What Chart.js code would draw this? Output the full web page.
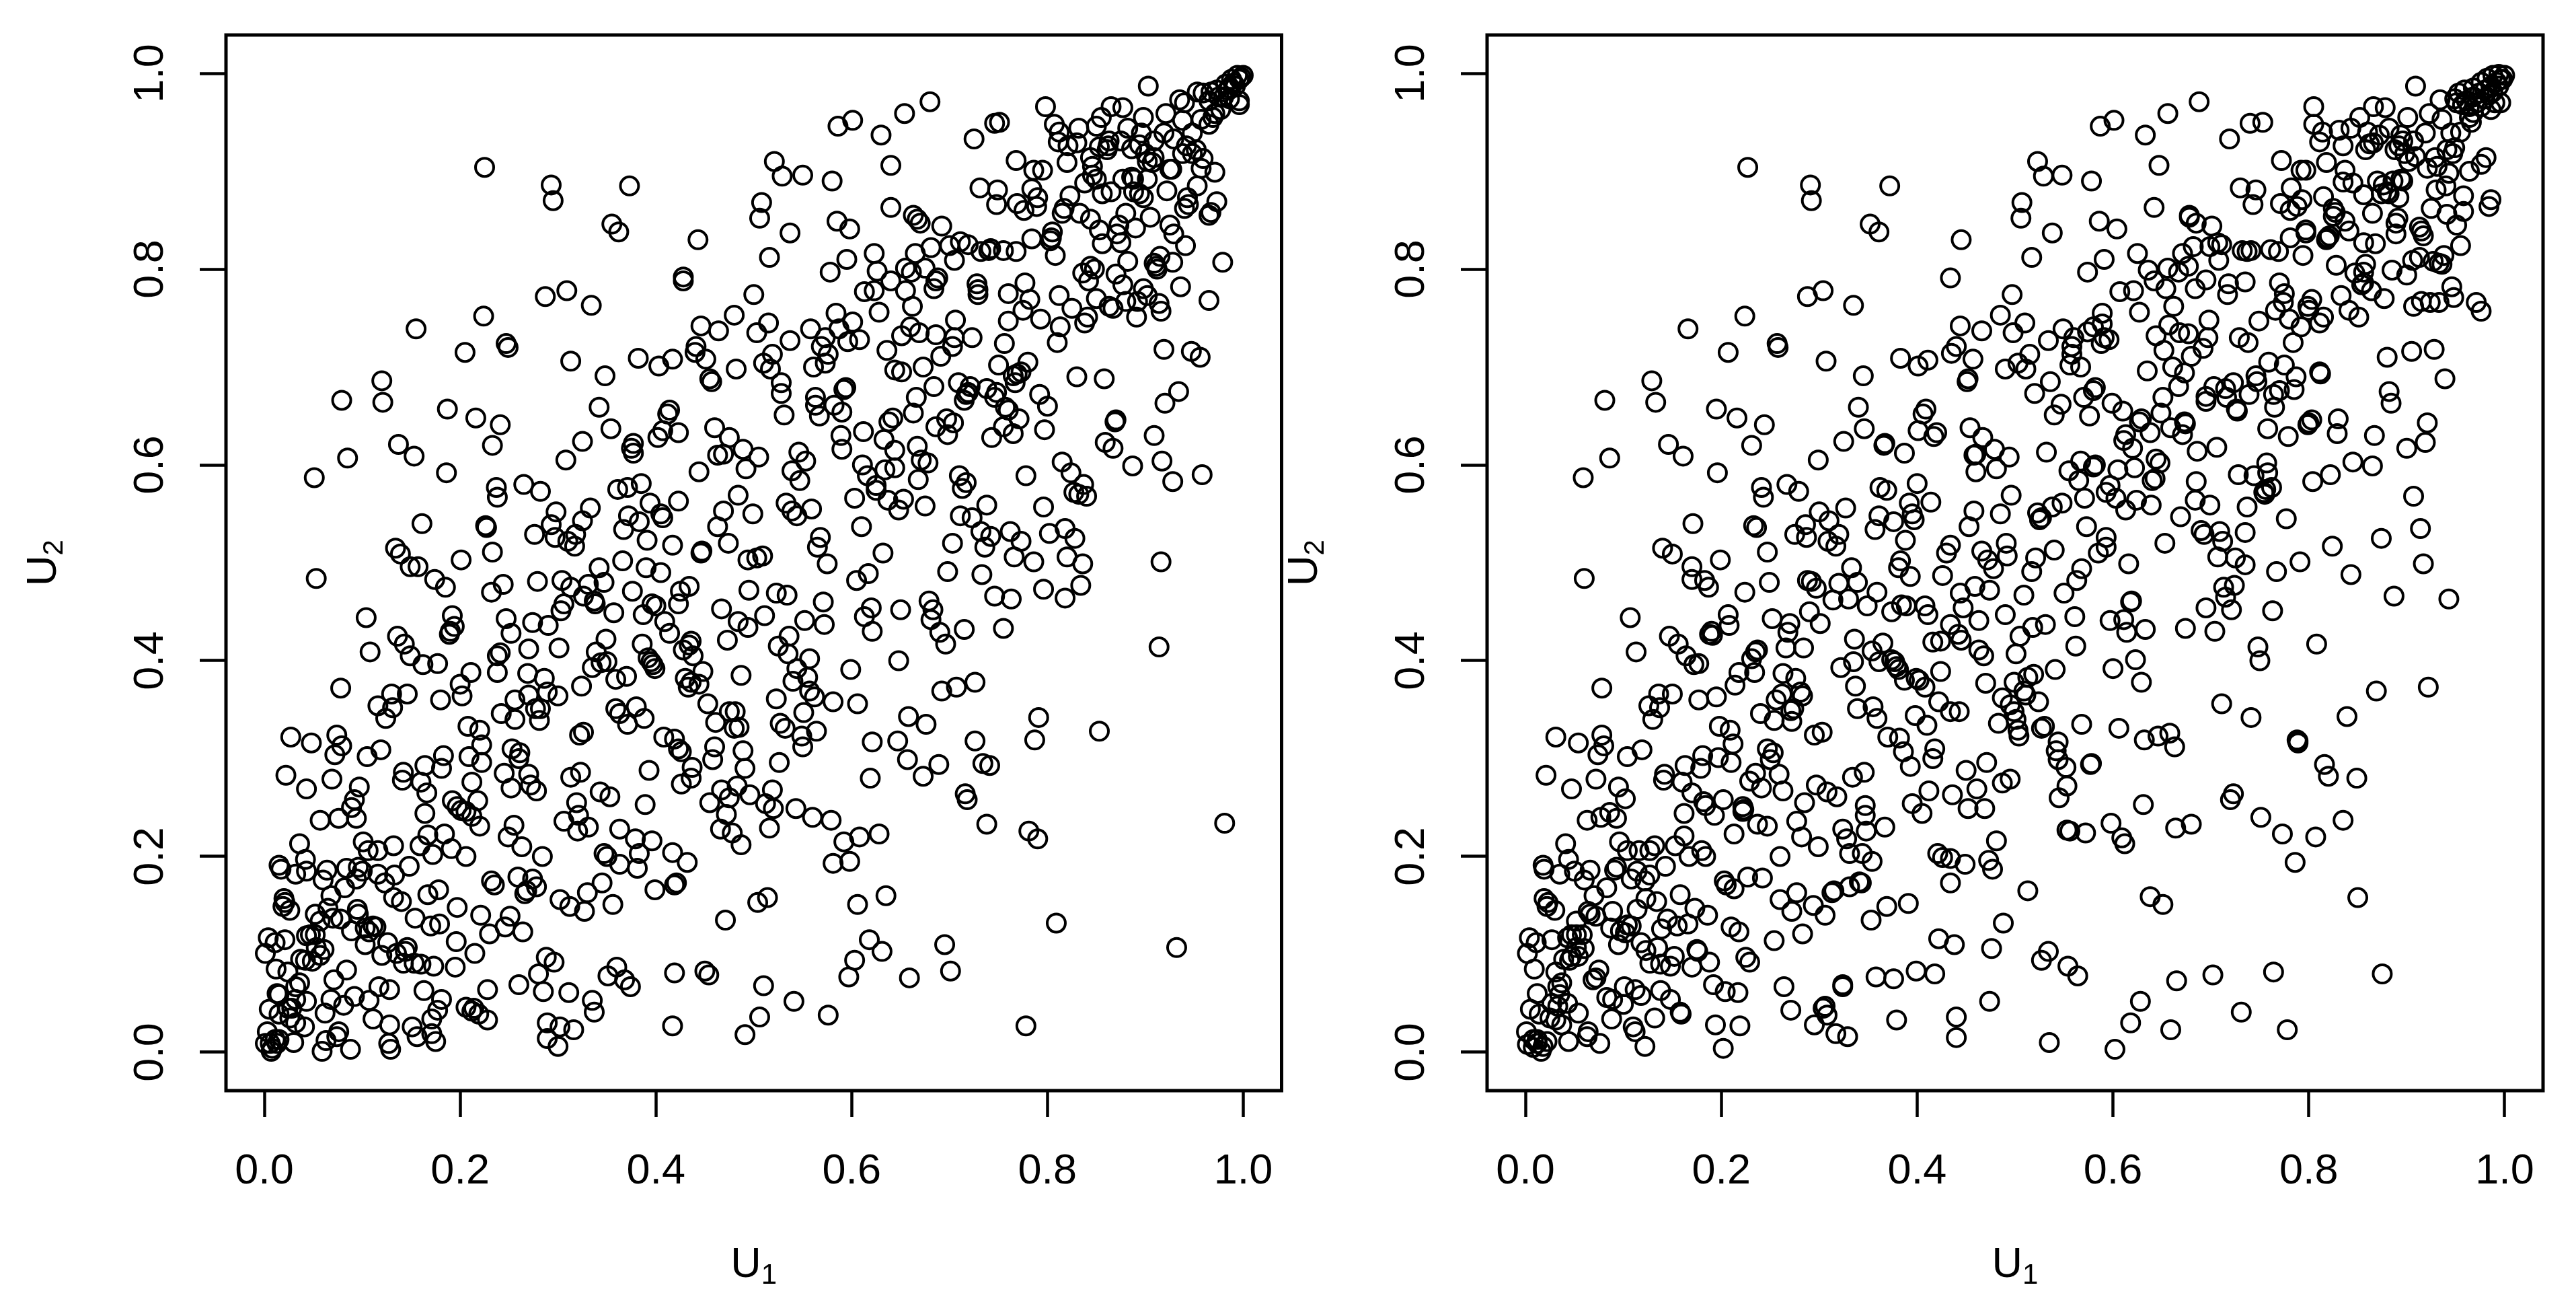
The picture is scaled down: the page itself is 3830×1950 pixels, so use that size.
<!DOCTYPE html>
<html>
<head>
<meta charset="utf-8">
<title>U1 U2 scatter</title>
<script src="https://cdn.jsdelivr.net/npm/chart.js@4"></script>
<style>
html, body { margin: 0; padding: 0; background: #fff; }
canvas { position: absolute; top: 0; }
</style>
</head>
<body>
<canvas id="leftPlot" width="1923" height="1950" style="left:0"></canvas>
<canvas id="rightPlot" width="1915" height="1950" style="left:1915px"></canvas>
<script>
const tickValues = [0, 0.2, 0.4, 0.6, 0.8, 1];
const tickLabels = ['0.0', '0.2', '0.4', '0.6', '0.8', '1.0'];
const xTitle = ['U', '1'];
const yTitle = ['U', '2'];

/* U1, U2 pairs */
const leftPairs = [
[.225,.904],[.293,.886],[.295,.870],[.373,.885],[.355,.846],[.362,.838],[.287,.772],[.309,.778],[.334,.763],[.224,.752],[.155,.739],[.205,.715],[.247,.724],[.249,.720],[.313,.706],[.348,.691],[.382,.709],[.403,.701],[.120,.686],[.079,.666],[.121,.664],[.187,.657],[.216,.648],[.241,.641],[.342,.659],[.354,.637],[.414,.656],[.412,.652],[.407,.635],[.402,.628],[.325,.624],[.308,.605],[.377,.622],[.375,.617],[.377,.612],[.137,.621],[.153,.609],[.085,.607],[.051,.587],[.233,.620],[.186,.592],[.237,.577],[.238,.567],[.265,.580],[.282,.573],[.361,.575],[.371,.577],[.385,.581],[.394,.561],[.405,.550],[.407,.546],[.372,.548],[.383,.542],[.367,.534],[.391,.523],[.333,.556],[.298,.552],[.325,.543],[.293,.539],[.161,.540],[.226,.538],[.227,.536],[.276,.529],[.318,.529],[.297,.526],[.310,.522],[.317,.517],[.134,.515],[.139,.509],[.233,.511],[.201,.503],[.366,.502],[.342,.495],[.390,.495],[.405,.490],[.149,.496],[.157,.496],
[.053,.484],[.174,.483],[.185,.475],[.232,.470],[.244,.478],[.279,.481],[.304,.482],[.313,.475],[.326,.466],[.331,.478],[.347,.480],[.337,.461],[.338,.458],[.376,.471],[.357,.449],[.396,.458],[.400,.456],[.387,.447],[.409,.440],[.414,.428],[.386,.417],[.306,.458],[.303,.451],[.290,.436],[.274,.439],[.247,.443],[.252,.428],[.192,.446],[.194,.435],[.190,.430],[.189,.427],[.104,.444],[.136,.425],[.143,.417],[.149,.405],[.108,.409],[.162,.396],[.177,.397],[.241,.408],[.238,.405],[.270,.412],[.301,.413],[.349,.422],[.339,.409],[.350,.399],[.344,.398],[.335,.393],[.392,.403],[.395,.399],[.397,.396],[.399,.392],[.370,.384],[.359,.381],[.078,.372],[.211,.388],[.200,.376],[.202,.364],[.238,.388],[.269,.387],[.286,.382],[.324,.374],[.146,.366],[.130,.366],[.116,.354],[.131,.352],[.124,.341],[.180,.360],[.256,.360],[.270,.365],[.289,.368],[.300,.364],[.277,.351],[.282,.351],[.281,.339],[.256,.340],[.242,.346],[.359,.351],[.363,.346],[.371,.335],[.380,.353],[.388,.341],[.208,.333],[.220,.329],[.222,.314],[.322,.324],[.326,.327],[.027,.322],[.048,.316],[.074,.324],[.079,.313],[.072,.304],[.119,.309],[.105,.302],[.408,.322],[.423,.310],[.253,.310],[.261,.306],[.260,.300],[.183,.303],[.181,.290],[.164,.293],[.209,.302],[.222,.296],[.142,.286],[.141,.278],[.160,.276],[.166,.265],[.212,.276],[.245,.285],[.252,.270],[.270,.284],[.272,.273],[.278,.267],[.313,.281],[.323,.286],[.393,.288],[.022,.283],[.043,.269],[.069,.279],[.097,.271],[.092,.258],[.089,.250],[.094,.239],[.076,.239],[.057,.237],[.343,.266],[.353,.261],[.389,.253],[.319,.255],[.321,.242],[.192,.257],[.197,.251],[.201,.247],[.206,.246],[.212,.241],[.218,.257],[.220,.231],[.164,.244],[.306,.236],[.320,.226],[.331,.230],[.255,.232],[.249,.220],[.263,.210],[.363,.228],[.379,.218],[.396,.216],[.383,.203],[.347,.203],[.350,.200],[.363,.192],[.381,.188],[.284,.200],[.036,.213],[.042,.197],[.043,.185],[.032,.182],[.015,.191],[.017,.187],[.064,.186],[.060,.176],[.101,.215],[.106,.206],[.116,.206],[.132,.211],[.167,.222],[.184,.223],[.159,.211],[.172,.202],[.191,.208],[.206,.200],[.084,.188],[.096,.189],[.100,.185],[.094,.177],[.116,.182],[.133,.181],[.123,.173],[.148,.190],[.082,.168],[.068,.160],[.232,.175],[.235,.171],[.259,.179],[.274,.177],[.278,.169],[.266,.162],[.268,.165],[.345,.173],[.330,.163],[.302,.156],[.312,.149],[.327,.144],[.356,.151],[.399,.166],[.167,.161],[.178,.166],[.132,.158],[.140,.154],[.197,.148],[.221,.140],[.251,.139],[.246,.128],[.230,.121],[.264,.123],[.154,.137],[.170,.129],[.179,.131],[.020,.157],[.021,.153],[.019,.149],[.026,.145],[.052,.141],[.065,.147],[.057,.134],[.070,.137],[.078,.136],[.095,.146],[.096,.141],[.089,.124],[.103,.127],[.111,.129],[.114,.128],[.107,.123],[.103,.110],[.047,.120],[.052,.120],[.043,.119],[.053,.107],[.061,.105],[.057,.099],[.049,.093],[.037,.095],[.042,.094],[.004,.117],[.011,.112],[.021,.115],[.001,.101],[.126,.112],[.120,.099],[.135,.101],[.146,.107],[.144,.103],[.142,.091],[.153,.091],[.160,.090],[.173,.088],[.196,.113],[.195,.087],[.215,.101],[.012,.085],[.024,.082],[.084,.084],[.071,.074],[.036,.071],[.032,.067],[.013,.060],[.015,.059],[.117,.067],[.128,.064],[.163,.063],[.228,.064],[.260,.069],[.280,.080],[.288,.097],[.296,.092],[.285,.062],[.311,.061],[.351,.078],[.360,.087],[.368,.074],[.374,.067],[.335,.053],[.337,.041],[.068,.054],[.092,.057],[.107,.053],[.081,.048],[.043,.052],[.032,.054],[.024,.045],[.005,.044],[.015,.039],[.028,.045],[.026,.035],[.032,.030],[.041,.026],[.062,.040],[.181,.054],[.177,.043],[.171,.034],[.206,.046],[.214,.045],[.212,.042],[.219,.039],[.228,.033],[.111,.034],[.128,.028],[.151,.026],[.156,.016],[.171,.019],[.175,.011],[.289,.030],[.302,.026],[.316,.023],[.289,.014],[.300,.006],[.076,.021],[.074,.016],[.063,.012],[.059,.001],[.088,.003],[.127,.009],[.129,.003],[.030,.010],[.003,.021],[.011,.013],[.015,.013],[.006,.009],[.001,.009],[.008,.004],[.007,.001],[.013,.009],
[.903,.987],[.680,.971],[.654,.959],[.601,.952],[.586,.946],[.630,.937],[.798,.966],[.725,.933],[.746,.949],[.751,.950],[.865,.966],[.877,.965],[.935,.973],[.921,.959],[.898,.955],[.855,.955],[.807,.948],[.812,.940],[.811,.930],[.832,.944],[.830,.929],[.821,.926],[.850,.946],[.862,.926],[.861,.922],[.863,.931],[.853,.925],[.882,.944],[.875,.931],[.886,.923],[.894,.927],[.896,.939],[.900,.918],[.909,.931],[.919,.939],[.929,.933],[.938,.952],[.948,.939],[.909,.914],[.907,.909],[.902,.910],[.942,.926],[.952,.922],[.959,.913],[.948,.918],[.938,.918],[.925,.902],[.927,.902],[.957,.903],[.971,.899],[.953,.885],[.922,.880],[.953,.981],[.959,.980],[.967,.981],[.973,.983],[.965,.972],[.975,.976],[.982,.989],[.988,.994],[.994,.998],[1,.998],[.996,.994],[.990,.990],[.984,.983],[.980,.976],[.986,.985],[.977,.963],[.971,.959],[.965,.948],[.996,.968],[.996,.972],[.957,.953],[.969,.955],[.986,.974],[.992,.987],[.998,.996],[.940,.970],[.768,.911],[.786,.901],[.795,.901],[.846,.905],[.846,.896],[.850,.892],[.838,.888],[.844,.914],[.856,.877],[.865,.879],[.820,.909],[.877,.892],[.886,.894],[.888,.892],[.902,.892],[.888,.879],[.894,.877],[.898,.873],[.731,.883],[.749,.881],[.748,.866],[.769,.867],[.776,.860],[.784,.882],[.790,.873],[.789,.864],[.823,.875],[.817,.862],[.815,.857],[.833,.857],[.844,.851],[.943,.873],[.940,.862],[.944,.866],[.973,.869],[.965,.855],[.967,.858],[.905,.853],[.880,.857],[.873,.845],[.890,.842],[.925,.845],[.929,.836],[.853,.840],[.871,.836],[.875,.827],[.856,.826],[.941,.824],[.784,.831],[.805,.838],[.804,.832],[.803,.829],[.808,.814],[.882,.808],[.979,.807],[.915,.813],[.909,.806],[.911,.803],[.912,.800],[.928,.807],[.844,.803],[.848,.800],[.836,.796],[.842,.788],[.870,.795],[.877,.784],[.898,.780],[.892,.767],[.902,.773],[.914,.765],[.916,.757],[.880,.767],[.891,.751],[.936,.782],[.965,.768],[.850,.770],[.863,.762],[.867,.760],[.812,.773],[.825,.760],[.841,.751],[.838,.745],[.813,.741],[.810,.725],[.777,.786],[.760,.775],[.782,.769],[.775,.758],[.793,.749],[.760,.747],[.756,.724],[.692,.844],[.663,.855],[.667,.851],[.670,.847],[.640,.863],[.640,.906],[.521,.910],[.529,.895],[.550,.896],[.580,.890],[.508,.868],[.506,.852],[.537,.837],[.585,.849],[.598,.841],[.443,.830],[.516,.812],[.595,.810],[.578,.797],[.623,.816],[.626,.798],[.640,.788],[.665,.816],[.681,.822],[.700,.824],[.711,.828],[.719,.825],[.732,.818],[.740,.819],[.742,.821],[.755,.819],[.768,.818],[.705,.809],[.655,.801],[.661,.797],[.675,.801],[.688,.791],[.686,.788],[.684,.780],[.655,.778],[.728,.785],[.729,.779],[.729,.774],[.613,.777],[.623,.778],[.628,.756],[.662,.762],[.428,.792],[.428,.788],[.500,.774],[.480,.753],[.446,.742],[.464,.737],[.503,.735],[.515,.745],[.584,.755],[.601,.746],[.587,.739],[.558,.739],[.573,.730],[.569,.721],[.596,.726],[.608,.728],[.537,.727],[.441,.721],[.440,.715],[.451,.708],[.417,.708],[.482,.698],[.519,.713],[.510,.704],[.517,.698],[.576,.713],[.573,.704],[.561,.700],[.455,.688],[.457,.685],[.528,.684],[.528,.673],[.531,.651],[.660,.741],[.669,.735],[.651,.732],[.686,.733],[.706,.748],[.723,.730],[.705,.730],[.703,.721],[.691,.711],[.636,.717],[.673,.700],[.644,.697],[.651,.695],[.684,.680],[.666,.669],[.663,.653],[.750,.702],[.780,.705],[.773,.695],[.769,.693],[.765,.691],[.767,.684],[.709,.684],[.721,.680],[.719,.674],[.717,.672],[.715,.666],[.738,.678],[.748,.674],[.746,.669],[.757,.659],[.760,.656],[.771,.647],[.755,.639],[.765,.632],[.743,.628],[.792,.672],[.800,.660],[.797,.636],[.830,.690],[.858,.688],[.919,.718],[.947,.716],[.956,.710],[.934,.675],[.920,.663],[.870,.646],[.869,.644],[.859,.623],[.867,.617],[.909,.630],[.887,.599],[.917,.604],[.928,.583],[.958,.590],[.815,.603],[.824,.592],[.837,.580],[.827,.572],[.832,.570],[.840,.568],[.778,.589],[.710,.589],[.717,.582],[.713,.576],[.796,.557],[.738,.559],[.711,.548],[.723,.546],[.732,.532],[.742,.527],[.762,.532],[.773,.522],[.766,.506],[.786,.501],[.802,.530],[.818,.535],[.828,.525],[.820,.506],[.836,.499],[.916,.501],[.703,.520],[.736,.516],[.698,.491],[.733,.488],[.632,.510],[.610,.537],[.675,.558],[.653,.565],[.637,.564],[.648,.554],[.668,.585],[.667,.619],[.671,.605],[.678,.602],[.644,.615],[.633,.626],[.634,.595],[.644,.597],[.611,.600],[.616,.589],[.625,.579],[.625,.574],[.603,.566],[.612,.634],[.589,.630],[.590,.616],[.642,.648],[.638,.644],[.697,.647],[.704,.643],[.686,.639],[.698,.631],[.563,.669],[.563,.661],[.567,.650],[.582,.661],[.590,.654],[.594,.679],[.592,.677],[.546,.613],[.553,.604],[.539,.594],[.547,.584],[.460,.638],[.423,.633],[.475,.628],[.489,.616],[.463,.610],[.469,.611],[.505,.608],[.492,.596],[.444,.593],[.484,.569],[.423,.563],[.469,.553],[.499,.550],[.463,.537],[.474,.520],[.533,.561],[.559,.555],[.539,.553],[.544,.548],[.568,.526],[.565,.516],[.417,.518],[.447,.512],[.446,.510],[.494,.503],[.503,.505],[.509,.507],[.575,.499],
[.434,.476],[.425,.471],[.423,.458],[.495,.472],[.523,.469],[.534,.467],[.571,.460],[.605,.482],[.617,.489],[.467,.453],[.484,.440],[.494,.434],[.511,.446],[.473,.421],[.552,.441],[.572,.437],[.536,.425],[.525,.415],[.535,.407],[.557,.402],[.620,.454],[.613,.445],[.621,.430],[.650,.452],[.679,.461],[.683,.452],[.681,.442],[.690,.429],[.696,.417],[.715,.432],[.755,.433],[.746,.466],[.763,.463],[.796,.473],[.818,.464],[.834,.477],[.914,.414],[.648,.400],[.599,.391],[.436,.420],[.434,.416],[.428,.411],[.438,.405],[.448,.389],[.487,.385],[.544,.392],[.555,.383],[.540,.379],[.557,.369],[.562,.363],[.581,.358],[.606,.356],[.523,.361],[.430,.382],[.436,.378],[.444,.376],[.433,.373],[.453,.356],[.475,.348],[.481,.348],[.461,.337],[.480,.331],[.485,.332],[.551,.347],[.527,.336],[.532,.331],[.564,.328],[.549,.323],[.550,.312],[.658,.343],[.676,.335],[.692,.369],[.707,.373],[.726,.378],[.791,.342],[.787,.319],[.853,.328],[.726,.318],[.621,.317],[.647,.318],[.657,.299],[.689,.294],[.673,.282],[.734,.295],[.741,.293],[.619,.280],[.419,.320],[.426,.307],[.460,.312],[.458,.299],[.489,.308],[.491,.290],[.526,.296],[.437,.291],[.436,.280],[.426,.274],[.467,.268],[.483,.272],[.475,.260],[.496,.263],[.519,.268],[.455,.255],[.512,.254],[.520,.249],[.472,.243],[.543,.249],[.560,.240],[.579,.237],[.516,.229],[.466,.228],[.478,.224],[.487,.212],[.716,.264],[.718,.258],[.738,.233],[.781,.226],[.790,.218],[.981,.234],[.592,.215],[.608,.220],[.628,.223],[.581,.193],[.598,.195],[.432,.194],[.417,.204],[.421,.173],[.419,.171],[.514,.158],[.504,.153],[.606,.151],[.635,.160],[.471,.135],[.809,.132],[.618,.115],[.631,.103],[.603,.094],[.597,.077],[.695,.110],[.701,.083],[.659,.076],[.932,.107],[.419,.081],[.450,.083],[.454,.079],[.510,.068],[.541,.052],[.506,.036],[.491,.018],[.576,.038],[.417,.027],[.778,.027]
];

/* U1, U2 pairs */
const rightPairs = [
[.227,.904],[.291,.886],[.292,.870],[.372,.885],[.352,.846],[.361,.838],[.288,.772],[.304,.778],[.335,.763],[.224,.752],[.166,.739],[.207,.715],[.257,.724],[.258,.720],[.307,.706],[.345,.691],[.383,.709],[.401,.701],[.411,.707],[.435,.714],[.129,.686],[.081,.666],[.133,.664],[.195,.657],[.216,.648],[.244,.641],[.340,.659],[.346,.637],[.409,.657],[.406,.652],[.401,.635],[.420,.633],[.417,.629],[.325,.624],[.299,.605],[.367,.622],[.366,.620],[.387,.612],[.146,.621],[.161,.609],[.086,.607],[.059,.587],[.231,.620],[.196,.592],[.241,.577],[.243,.567],[.267,.580],[.279,.573],[.362,.577],[.369,.574],[.400,.581],[.414,.562],[.392,.561],[.395,.550],[.397,.544],[.361,.548],[.376,.542],[.357,.534],[.388,.523],[.430,.510],[.327,.556],[.300,.552],[.310,.543],[.286,.539],[.171,.540],[.233,.538],[.236,.536],[.275,.529],[.320,.529],[.287,.526],[.309,.522],[.317,.517],[.140,.515],[.150,.509],[.247,.511],[.199,.503],[.383,.502],[.333,.495],[.381,.495],[.170,.496],
[.060,.484],[.224,.470],[.249,.480],[.183,.482],[.187,.475],[.170,.483],[.288,.482],[.292,.481],[.297,.474],[.320,.479],[.339,.480],[.359,.470],[.314,.462],[.330,.463],[.349,.456],[.393,.486],[.426,.487],[.374,.450],[.384,.457],[.389,.456],[.408,.456],[.411,.447],[.290,.450],[.301,.438],[.252,.443],[.270,.438],[.268,.429],[.207,.447],[.208,.436],[.190,.430],[.188,.427],[.191,.426],[.107,.444],[.147,.425],[.156,.417],[.164,.405],[.113,.409],[.172,.396],[.177,.397],[.266,.413],[.284,.413],[.235,.409],[.237,.411],[.231,.402],[.336,.422],[.365,.418],[.354,.410],[.361,.399],[.374,.401],[.377,.399],[.379,.394],[.381,.391],[.322,.393],[.335,.399],[.416,.419],[.424,.420],[.424,.389],[.399,.382],[.402,.380],[.408,.373],[.387,.380],[.422,.358],[.078,.372],[.218,.388],[.214,.375],[.234,.388],[.263,.387],[.276,.382],[.150,.366],[.136,.366],[.126,.354],[.137,.352],[.130,.340],[.195,.363],[.177,.360],[.337,.374],[.256,.360],[.262,.366],[.281,.368],[.283,.364],[.271,.349],[.274,.351],[.272,.338],[.240,.346],[.254,.339],[.339,.351],[.355,.353],[.359,.341],[.398,.344],[.410,.334],[.198,.333],[.209,.329],[.212,.315],[.295,.324],[.303,.327],[.370,.322],[.382,.321],[.386,.307],[.393,.292],[.031,.322],[.054,.316],[.078,.324],[.080,.313],[.074,.304],[.119,.309],[.104,.302],[.418,.310],[.416,.300],[.247,.310],[.253,.306],[.250,.299],[.181,.303],[.179,.290],[.197,.301],[.210,.296],[.163,.293],[.142,.284],[.141,.278],[.160,.276],[.170,.265],[.235,.285],[.229,.277],[.241,.270],[.259,.284],[.263,.267],[.334,.281],[.346,.286],[.297,.273],[.308,.266],[.318,.261],[.021,.283],[.047,.269],[.072,.279],[.095,.271],[.102,.259],[.086,.245],[.093,.239],[.077,.240],[.063,.237],[.412,.267],[.395,.254],[.405,.244],[.347,.252],[.347,.242],[.348,.226],[.367,.230],[.285,.255],[.277,.236],[.282,.220],[.299,.210],[.324,.228],[.328,.218],[.331,.203],[.344,.203],[.354,.195],[.421,.203],[.426,.199],[.182,.256],[.184,.252],[.193,.242],[.202,.258],[.222,.251],[.222,.246],[.223,.248],[.162,.244],[.237,.233],[.247,.231],[.213,.223],[.162,.221],[.153,.211],[.167,.200],[.180,.206],[.184,.200],[.260,.200],[.041,.213],[.044,.197],[.050,.185],[.035,.182],[.018,.191],[.019,.187],[.066,.186],[.060,.176],[.096,.215],[.104,.206],[.116,.206],[.127,.206],[.132,.211],[.093,.189],[.091,.186],[.114,.185],[.127,.181],[.108,.177],[.122,.175],[.143,.190],[.083,.168],[.070,.160],[.203,.175],[.205,.171],[.227,.179],[.242,.178],[.213,.167],[.277,.163],[.313,.163],[.315,.165],[.331,.169],[.343,.173],[.341,.174],[.260,.156],[.272,.144],[.294,.150],[.306,.140],[.369,.149],[.391,.152],[.353,.135],[.158,.161],[.134,.154],[.123,.157],[.173,.147],[.186,.140],[.114,.146],[.210,.128],[.218,.123],[.145,.136],[.139,.126],[.155,.129],[.166,.131],[.254,.114],[.283,.121],[.422,.116],[.019,.157],[.023,.153],[.022,.149],[.030,.145],[.064,.144],[.072,.139],[.066,.141],[.052,.134],[.089,.144],[.087,.127],[.104,.130],[.108,.129],[.097,.124],[.102,.122],[.095,.110],[.118,.112],[.123,.104],[.135,.107],[.152,.098],[.127,.091],[.138,.090],[.148,.088],[.170,.087],[.175,.105],[.176,.103],[.188,.092],[.225,.097],[.229,.092],[.047,.120],[.052,.120],[.043,.117],[.058,.120],[.052,.107],[.060,.106],[.047,.098],[.054,.098],[.039,.095],[.045,.094],[.004,.117],[.011,.112],[.027,.115],[.002,.101],[.009,.085],[.031,.082],[.075,.084],[.069,.074],[.072,.076],[.037,.071],[.033,.067],[.012,.060],[.101,.067],[.112,.064],[.118,.058],[.138,.063],[.148,.054],[.158,.041],[.159,.039],[.083,.056],[.089,.054],[.100,.049],[.192,.069],[.204,.062],[.217,.061],[.264,.067],[.271,.043],[.324,.069],[.324,.067],[.358,.077],[.376,.075],[.399,.083],[.418,.080],[.306,.047],[.304,.045],[.308,.038],[.295,.028],[.317,.019],[.329,.016],[.379,.033],[.035,.059],[.027,.050],[.043,.050],[.033,.047],[.005,.044],[.014,.039],[.054,.040],[.025,.035],[.031,.033],[.037,.028],[.088,.034],[.132,.035],[.110,.026],[.112,.021],[.194,.028],[.219,.027],[.202,.004],[.064,.021],[.063,.016],[.076,.009],[.122,.006],[.044,.011],[.001,.021],[.008,.013],[.012,.013],[.002,.008],[.008,.005],[.016,.001],[.018,.006],[.012,.009],[.022,.011],
[.909,.987],[.688,.971],[.656,.959],[.601,.952],[.587,.946],[.633,.937],[.805,.966],[.719,.933],[.740,.949],[.753,.950],[.866,.966],[.878,.965],[.934,.973],[.923,.959],[.901,.955],[.852,.955],[.805,.948],[.814,.940],[.811,.930],[.831,.942],[.843,.944],[.860,.940],[.835,.926],[.866,.929],[.872,.937],[.858,.922],[.862,.928],[.882,.944],[.894,.937],[.896,.931],[.888,.922],[.892,.926],[.907,.931],[.909,.915],[.902,.910],[.898,.918],[.919,.939],[.936,.953],[.945,.939],[.929,.914],[.921,.903],[.931,.905],[.941,.922],[.949,.924],[.947,.918],[.943,.898],[.964,.900],[.981,.914],[.976,.907],[.930,.881],[.940,.885],[.958,.875],[.925,.862],[.958,.859],[.941,.856],[.951,.845],[.986,.871],[.984,.864],[.953,.980],[.959,.983],[.968,.985],[.976,.991],[.982,.995],[.988,.998],[.994,.999],[1,.998],[.996,.994],[.992,.991],[.986,.987],[.980,.983],[.974,.980],[.968,.976],[.961,.972],[.957,.968],[.951,.970],[.964,.966],[.972,.970],[.980,.974],[.988,.981],[.994,.987],[.996,.970],[.986,.963],[.964,.955],[.966,.950],[.955,.940],[.949,.974],[.998,.994],[.984,.978],[.976,.966],[.968,.960],[.990,.970],[.772,.911],[.792,.901],[.797,.901],[.818,.909],[.837,.901],[.835,.889],[.845,.888],[.856,.876],[.870,.890],[.876,.886],[.874,.877],[.882,.877],[.880,.879],[.892,.873],[.886,.890],[.896,.890],[.894,.892],[.730,.883],[.746,.881],[.743,.866],[.771,.867],[.781,.860],[.782,.883],[.793,.871],[.788,.864],[.815,.874],[.825,.862],[.827,.858],[.825,.854],[.837,.849],[.841,.839],[.865,.857],[.891,.852],[.889,.847],[.889,.836],[.913,.843],[.915,.839],[.917,.834],[.856,.827],[.868,.826],[.955,.824],[.781,.832],[.797,.840],[.797,.837],[.819,.832],[.821,.834],[.818,.830],[.794,.814],[.828,.804],[.858,.805],[.856,.797],[.847,.796],[.854,.784],[.856,.786],[.885,.799],[.900,.794],[.906,.809],[.913,.812],[.927,.808],[.933,.806],[.936,.805],[.938,.814],[.864,.778],[.877,.770],[.833,.773],[.841,.758],[.851,.751],[.946,.782],[.948,.771],[.915,.767],[.924,.766],[.933,.766],[.907,.762],[.971,.766],[.976,.757],[.770,.786],[.775,.775],[.774,.766],[.766,.758],[.780,.749],[.803,.769],[.799,.762],[.800,.758],[.792,.741],[.815,.751],[.811,.745],[.749,.747],[.784,.725],[.729,.730],[.738,.725],[.701,.844],[.678,.855],[.678,.853],[.685,.847],[.642,.863],[.647,.906],[.523,.910],[.529,.895],[.548,.896],[.578,.890],[.507,.868],[.506,.852],[.538,.837],[.586,.849],[.604,.841],[.445,.830],[.517,.812],[.591,.810],[.574,.797],[.625,.816],[.636,.799],[.642,.788],[.671,.816],[.682,.823],[.699,.823],[.707,.827],[.711,.825],[.732,.819],[.737,.818],[.741,.819],[.761,.820],[.769,.818],[.708,.809],[.656,.801],[.667,.797],[.677,.803],[.695,.789],[.684,.780],[.654,.780],[.718,.785],[.717,.774],[.735,.787],[.607,.777],[.621,.778],[.627,.756],[.662,.762],[.434,.791],[.497,.774],[.485,.753],[.444,.742],[.466,.737],[.498,.735],[.510,.745],[.589,.755],[.589,.744],[.580,.741],[.574,.736],[.591,.730],[.596,.728],[.588,.724],[.549,.739],[.560,.730],[.558,.721],[.558,.713],[.556,.702],[.567,.700],[.534,.727],[.440,.721],[.457,.708],[.490,.698],[.515,.713],[.503,.704],[.511,.698],[.452,.688],[.451,.685],[.536,.685],[.520,.673],[.547,.662],[.540,.651],[.657,.743],[.668,.735],[.677,.734],[.644,.732],[.698,.748],[.697,.730],[.692,.719],[.680,.711],[.652,.717],[.635,.696],[.661,.700],[.673,.694],[.667,.680],[.651,.669],[.649,.653],[.759,.705],[.775,.702],[.746,.691],[.747,.685],[.787,.690],[.785,.677],[.811,.695],[.812,.693],[.703,.680],[.715,.678],[.723,.684],[.739,.672],[.695,.670],[.695,.665],[.716,.669],[.770,.676],[.764,.672],[.765,.659],[.726,.657],[.727,.655],[.758,.637],[.779,.629],[.803,.646],[.800,.643],[.799,.641],[.830,.647],[.829,.632],[.867,.630],[.905,.716],[.928,.718],[.880,.710],[.939,.688],[.882,.675],[.884,.663],[.921,.643],[.919,.623],[.900,.617],[.845,.603],[.865,.599],[.822,.590],[.804,.583],[.907,.568],[.914,.535],[.874,.525],[.824,.517],[.917,.499],[.777,.545],[.791,.501],[.767,.491],[.843,.488],[.728,.590],[.744,.589],[.757,.602],[.758,.592],[.762,.577],[.756,.575],[.754,.572],[.755,.570],[.737,.557],[.686,.614],[.706,.618],[.673,.644],[.674,.642],[.671,.631],[.659,.638],[.638,.633],[.629,.647],[.627,.644],[.613,.631],[.611,.625],[.620,.617],[.644,.606],[.648,.602],[.622,.597],[.605,.595],[.643,.586],[.640,.584],[.685,.583],[.684,.564],[.699,.559],[.669,.547],[.690,.533],[.693,.529],[.709,.532],[.712,.522],[.735,.531],[.707,.506],[.725,.505],[.735,.498],[.653,.520],[.582,.600],[.580,.598],[.567,.604],[.555,.594],[.565,.584],[.597,.579],[.593,.572],[.603,.566],[.624,.564],[.613,.554],[.639,.559],[.571,.566],[.573,.537],[.593,.526],[.593,.516],[.585,.510],[.616,.499],[.599,.663],[.610,.655],[.576,.650],[.570,.669],[.582,.679],[.580,.676],[.454,.638],[.467,.628],[.479,.616],[.494,.608],[.458,.610],[.460,.611],[.481,.596],[.460,.593],[.532,.613],[.496,.569],[.458,.553],[.485,.550],[.453,.537],[.548,.561],[.538,.557],[.523,.551],[.527,.546],[.525,.544],[.491,.520],[.492,.507],[.466,.512],[.472,.503],[.521,.505],[.540,.513],[.434,.518],[.517,.491],[.478,.494],[.568,.494],
[.459,.476],[.474,.472],[.444,.469],[.447,.454],[.463,.441],[.490,.447],[.509,.467],[.550,.469],[.563,.482],[.561,.445],[.562,.415],[.597,.441],[.611,.442],[.614,.429],[.633,.432],[.618,.460],[.619,.461],[.674,.433],[.704,.430],[.695,.454],[.713,.475],[.724,.477],[.715,.465],[.721,.452],[.763,.451],[.887,.466],[.943,.463],[.748,.414],[.750,.400],[.808,.417],[.505,.425],[.518,.434],[.531,.437],[.501,.407],[.434,.437],[.442,.427],[.445,.421],[.463,.411],[.468,.405],[.541,.391],[.600,.392],[.623,.401],[.629,.378],[.470,.377],[.499,.378],[.513,.383],[.519,.386],[.509,.369],[.487,.362],[.524,.358],[.511,.365],[.495,.355],[.499,.348],[.501,.340],[.483,.336],[.504,.323],[.503,.329],[.434,.348],[.443,.348],[.568,.335],[.606,.331],[.527,.331],[.530,.333],[.711,.356],[.741,.342],[.839,.343],[.869,.369],[.922,.373],[.632,.319],[.646,.323],[.658,.326],[.663,.312],[.789,.318],[.789,.316],[.788,.319],[.544,.317],[.542,.308],[.544,.299],[.552,.291],[.553,.272],[.545,.260],[.578,.295],[.577,.294],[.471,.296],[.450,.288],[.495,.279],[.487,.275],[.461,.269],[.436,.263],[.452,.249],[.469,.249],[.816,.294],[.820,.282],[.849,.280],[.723,.264],[.720,.258],[.631,.253],[.751,.240],[.773,.223],[.807,.220],[.835,.237],[.786,.194],[.598,.234],[.609,.219],[.612,.213],[.664,.229],[.680,.233],[.553,.227],[.556,.226],[.572,.224],[.481,.216],[.473,.196],[.477,.187],[.449,.192],[.434,.198],[.434,.173],[.513,.165],[.638,.159],[.651,.151],[.850,.158],[.488,.132],[.438,.110],[.476,.106],[.534,.103],[.527,.094],[.554,.088],[.564,.078],[.702,.079],[.665,.073],[.764,.082],[.875,.080],[.474,.052],[.628,.052],[.618,.030],[.731,.041],[.778,.023],[.659,.023],[.602,.003],[.535,.010],[.440,.036],[.440,.015]
];

/* Draw "U" with a lowered index next to it, centered on the origin */
function drawSubLabel(ctx, parts) {
    ctx.font = '63px "Liberation Sans"';
    var mainW = ctx.measureText(parts[0]).width;
    ctx.font = '42px "Liberation Sans"';
    var subW = ctx.measureText(parts[1]).width;
    var start = -(mainW + subW) / 2;
    ctx.textAlign = 'left';
    ctx.textBaseline = 'alphabetic';
    ctx.fillStyle = '#000';
    ctx.fillText(parts[1], start + mainW, 10);
    ctx.font = '63px "Liberation Sans"';
    ctx.fillText(parts[0], start, 0);
}

/* Box around the plot area and the two axis titles */
const rStylePlugin = {
    id: 'rStyle',
    afterDraw(chart) {
        var ctx = chart.ctx;
        var area = chart.chartArea;
        ctx.save();
        ctx.strokeStyle = '#000';
        ctx.lineWidth = 5;
        ctx.strokeRect(area.left, area.top, area.width, area.height);

        ctx.translate(chart.scales.x.getPixelForValue(0.5), area.bottom + 277);
        drawSubLabel(ctx, xTitle);
        ctx.restore();

        ctx.save();
        ctx.translate(area.left - 253, chart.scales.y.getPixelForValue(0.5));
        ctx.rotate(-Math.PI / 2);
        drawSubLabel(ctx, yTitle);
        ctx.restore();
    }
};

function axisOptions(isY, size) {
    return {
        type: 'linear',
        min: -0.0392,
        max: 1.0392,
        border: { display: false },
        grid: { drawOnChartArea: false, drawTicks: true, tickLength: 39, tickWidth: 4.5, tickColor: '#000' },
        ticks: {
            color: '#000',
            font: { family: '"Liberation Sans"', size: 63 },
            autoSkip: false,
            padding: isY ? 29 : 44,
            minRotation: isY ? 90 : 0,
            maxRotation: isY ? 90 : 0,
            crossAlign: isY ? 'center' : 'near',
            callback: function (value) {
                return tickLabels[tickValues.indexOf(value)];
            }
        },
        afterBuildTicks: function (scale) {
            scale.ticks = tickValues.map(function (v) { return { value: v }; });
        },
        afterFit: function (scale) {
            if (isY) scale.width = size;
            else scale.height = size;
            // labels hanging over the plot ends must not shrink the plot area
            scale.paddingLeft = 0;
            scale.paddingRight = 0;
            scale.paddingTop = 0;
            scale.paddingBottom = 0;
        }
    };
}

function drawPanel(canvasID, pairs, yAxisWidth, rightPad) {
    var ctx = document.getElementById(canvasID).getContext('2d');
    return new Chart(ctx, {
        type: 'scatter',
        data: {
            datasets: [{
                data: pairs.map(function (p) { return { x: p[0], y: p[1] }; }),
                pointStyle: 'circle',
                pointRadius: 13.5,
                pointBorderWidth: 4,
                pointBorderColor: '#000',
                pointBackgroundColor: 'rgba(0,0,0,0)',
                pointHoverRadius: 13.5
            }]
        },
        options: {
            responsive: false,
            animation: false,
            events: [],
            layout: { padding: { top: 52, right: rightPad, bottom: 0, left: 0 } },
            plugins: { legend: { display: false }, tooltip: { enabled: false } },
            scales: {
                x: axisOptions(false, 329),
                y: axisOptions(true, yAxisWidth)
            }
        },
        plugins: [rStylePlugin]
    });
}

// the point overflow keeps at least 17px free on the right, so the left canvas is a bit wider
drawPanel('leftPlot', leftPairs, 336, 17);
drawPanel('rightPlot', rightPairs, 296, 49);
</script>
</body>
</html>
